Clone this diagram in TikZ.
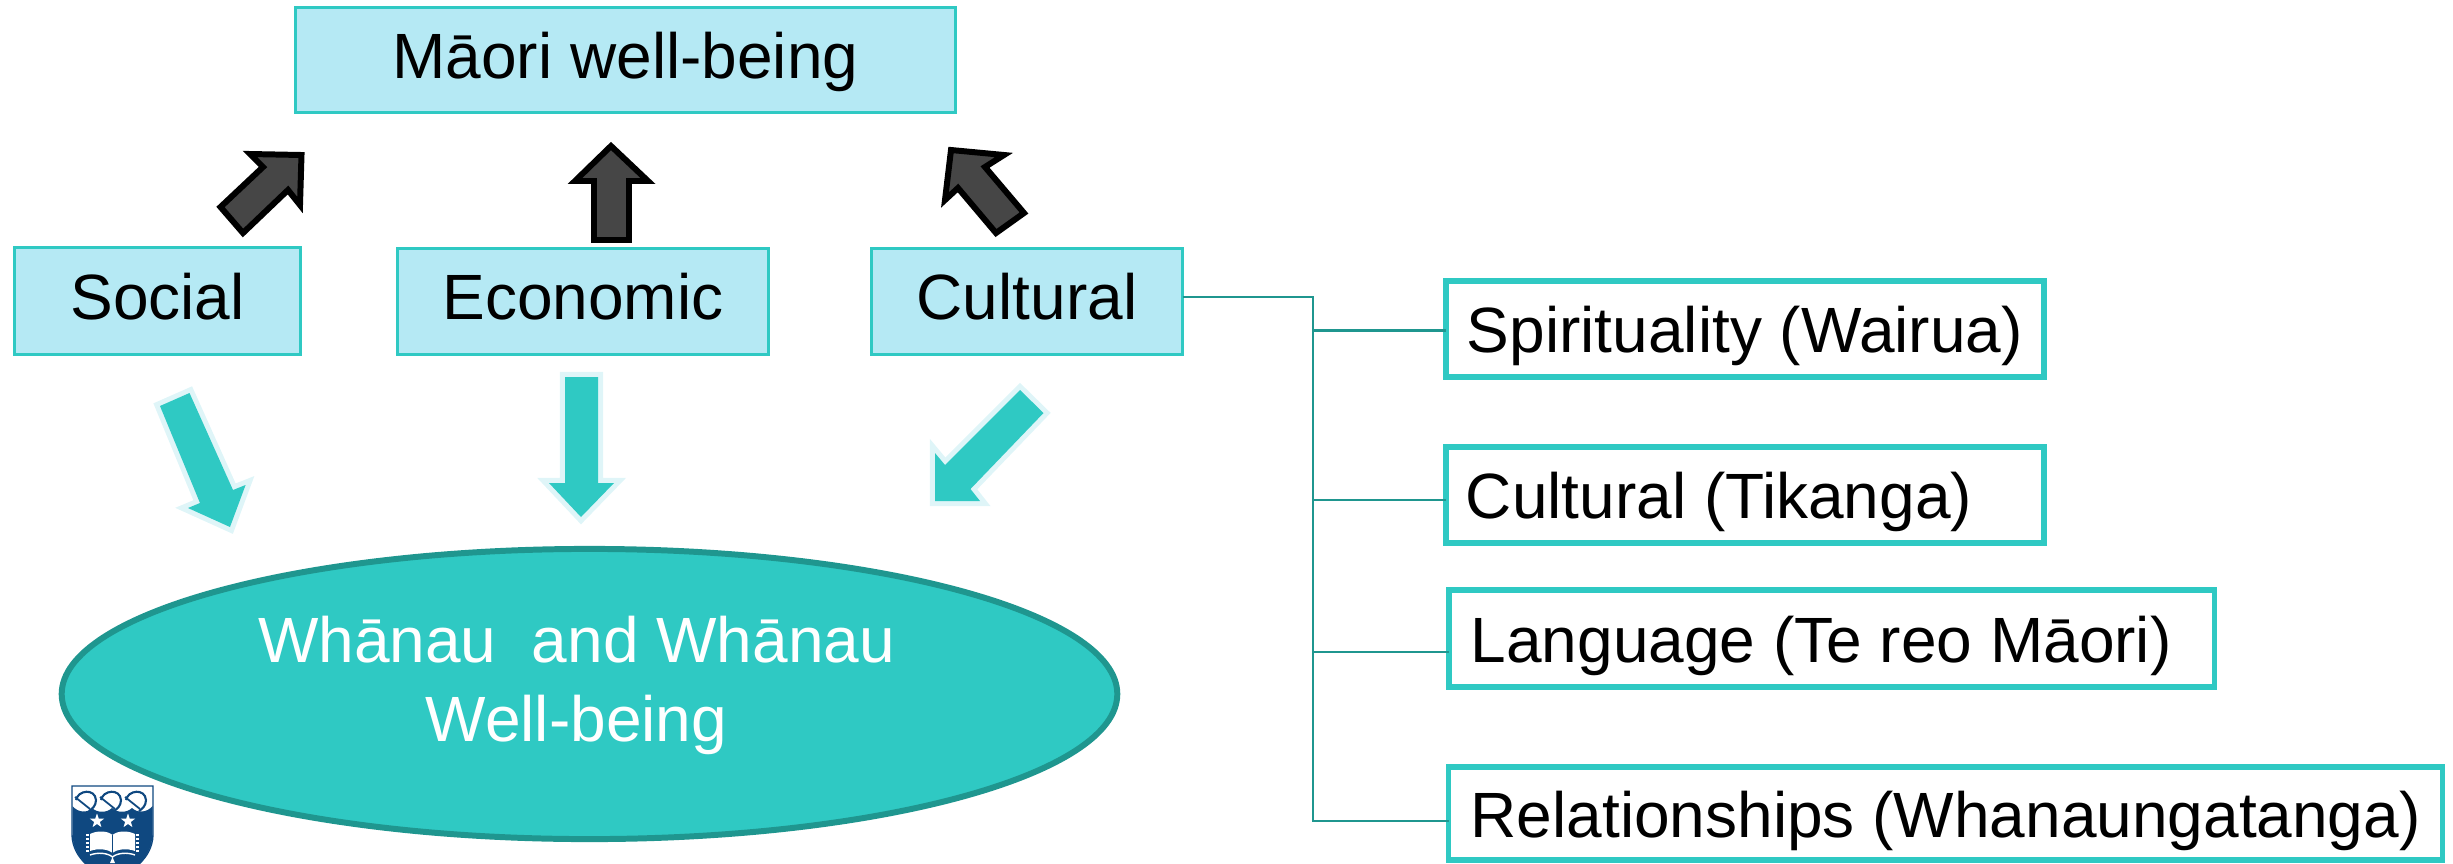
\documentclass[tikz,border=0pt]{standalone}
\usepackage{fontspec}
\setmainfont{Liberation Sans}
\usetikzlibrary{shapes.geometric}
\definecolor{teal1}{HTML}{2FC9C3}
\definecolor{teal2}{HTML}{1F968F}
\definecolor{pale}{HTML}{B5E9F4}
\definecolor{halo}{HTML}{DFF5F8}
\definecolor{darkar}{HTML}{464646}
\definecolor{navy}{HTML}{0F4880}
\newcommand{\ellline}[1]{\raisebox{-0.08cm}[0pt][0pt]{#1\hspace*{0.26cm}}}
\tikzset{
  x=0.01cm,y=-0.01cm,
  every node/.style={inner sep=0pt,outer sep=0pt},
  txt/.style={font=\fontsize{18.2pt}{22.2pt}\selectfont},
  headbox/.style={txt,draw=teal1,fill=pale,line width=0.85pt,text height=0.5cm,text depth=0.14cm},
  itembox/.style={txt,draw=teal1,fill=white,line width=1.55pt,text height=0.6cm,text depth=0.13cm},
  conn/.style={draw=teal2,line width=0.7pt},
  uparrow/.style={draw=black,fill=darkar,line width=1.7pt,miter limit=6},
  downarrow/.style={fill=teal1,preaction={draw=halo,line width=2.9pt,miter limit=6}},
  crestline/.style={draw=navy,line width=0.45pt}
}
\begin{document}
\begin{tikzpicture}
\useasboundingbox (0,0) rectangle (2453,863);
\clip (0,0) rectangle (2453,863);

% head boxes
\node[headbox,minimum width=6.59cm,minimum height=1.05cm] (top) at (625.5,60) {Māori well-being};
\node[headbox,minimum width=2.86cm,minimum height=1.07cm] (social) at (157.5,301) {Social};
\node[headbox,minimum width=3.71cm,minimum height=1.06cm] (economic) at (583,301.5) {Economic};
\node[headbox,minimum width=3.11cm,minimum height=1.06cm] (cultural) at (1027,301.5) {Cultural};

% ellipse
\node[ellipse,txt,draw=teal2,fill=teal1,line width=1.7pt,text=white,align=center,minimum width=10.55cm,minimum height=2.90cm] (well) at (589.5,694) {\ellline{Whānau\ \ and Whānau}\\\ellline{Well-being}};

% item boxes
\node[itembox,minimum width=5.98cm,minimum height=0.96cm] (spirit) at (1745,329) {\makebox[5.56cm][l]{Spirituality (Wairua)}};
\node[itembox,minimum width=5.98cm,minimum height=0.96cm] (tikanga) at (1745,495) {\makebox[5.58cm][l]{Cultural (Tikanga)}};
\node[itembox,minimum width=7.65cm,minimum height=0.97cm] (lang) at (1831.5,638.5) {\makebox[7.21cm][l]{Language (Te reo Māori)}};
\node[itembox,minimum width=9.93cm,minimum height=0.93cm] (rel) at (1945.5,813.5) {\makebox[9.49cm][l]{Relationships (Whanaungatanga)}};

% connectors
\coordinate (trunk) at (1313,297);
\coordinate (j1) at (1313,330.5);
\coordinate (j2) at (1313,500);
\coordinate (j3) at (1313,652);
\coordinate (j4) at (1313,821);
\draw[conn] (trunk -| cultural.east) -- (trunk) -- (j4) -- (j4 -| rel.west);
\draw[conn] (j1) -- (j1 -| spirit.west);
\draw[conn] (j2) -- (j2 -| tikanga.west);
\draw[conn] (j3) -- (j3 -| lang.west);

% dark block arrows
\draw[uparrow] (301.5,155) -- (250,154) -- (263,167) -- (220.5,207) -- (243,233) -- (288,190) -- (300,205) -- cycle;
\draw[uparrow] (611,146) -- (648,181) -- (629,181) -- (629,240) -- (594,240) -- (594,181) -- (575,181) -- cycle;
\draw[uparrow] (951,150) -- (1004,155) -- (985,167) -- (1024,213) -- (996,233) -- (958,188) -- (945,200) -- cycle;

% teal block arrows
\fill[downarrow] (189.5,393) -- (160,406) -- (200,503) -- (188,508) -- (230,527) -- (245.6,485) -- (233,490) -- cycle;
\fill[downarrow] (565,377) -- (598,377) -- (598,483) -- (614,483) -- (581,517) -- (549,483) -- (565,483) -- cycle;
\fill[downarrow] (1020,390) -- (1043.5,413) -- (970.5,489) -- (980,501) -- (935,501) -- (935,453) -- (945,465) -- cycle;

% crest
\path[draw=navy,fill=white,line width=0.4pt] (72,786) -- (153,786) -- (153,835) .. controls (152,860) and (130,872) .. (112.5,882) .. controls (95,872) and (73,860) .. (72,835) -- cycle;
\fill[navy] (72.5,806) .. controls (78,813) and (88,813) .. (92,808) .. controls (97,813) and (107,813) .. (112,808) .. controls (117,813) and (127,813) .. (132,808) .. controls (137,813) and (147,813) .. (152.5,806) -- (152.5,835) .. controls (151.5,860) and (130,872) .. (112.5,882) .. controls (95,872) and (73.5,860) .. (72.5,835) -- cycle;
\foreach \cx in {86,111,136}{
  \draw[crestline,line width=0.6pt] (\cx-10,800) .. controls (\cx-8,790) and (\cx+9,788) .. (\cx+10,800) .. controls (\cx+10,806) and (\cx+6,809) .. (\cx+3,811);
  \draw[crestline,line width=0.5pt] (\cx-11,797) -- (\cx+4,809);
}
\node[star,star points=5,star point ratio=2.5,fill=white,minimum size=0.15cm] (s1) at (97,821) {};
\node[star,star points=5,star point ratio=2.5,fill=white,minimum size=0.15cm] (s2) at (128,821) {};
\fill[white] (90,834) .. controls (98,830) and (108,831) .. (112.5,835) .. controls (117,831) and (127,830) .. (135,834) -- (135,851) .. controls (127,848) and (117,849) .. (112.5,853) .. controls (108,849) and (98,848) .. (90,851) -- cycle;
\draw[navy,line width=0.3pt] (112.5,835) -- (112.5,853);
\foreach \yy in {835,839,843,847,851}{
  \draw[white,line width=0.3pt] (86,\yy) -- (89,\yy);
  \draw[white,line width=0.3pt] (136,\yy) -- (139,\yy);
}
\draw[white,line width=0.4pt] (90,855) .. controls (98,852) and (108,853) .. (112.5,857) .. controls (117,853) and (127,852) .. (135,855);
\fill[white] (112.5,857) -- (115,863) -- (110,863) -- cycle;
\end{tikzpicture}
\end{document}
